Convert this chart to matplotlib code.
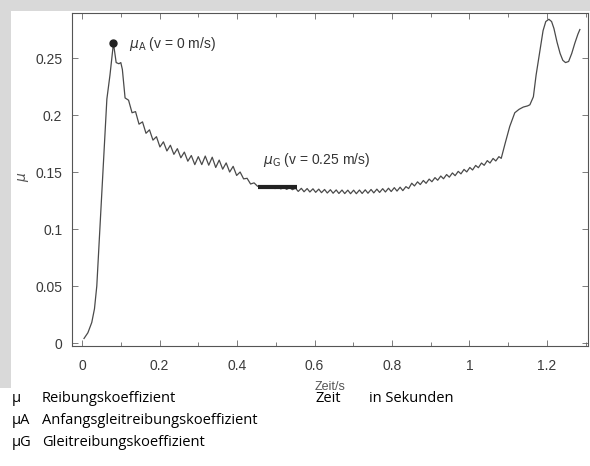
import matplotlib
matplotlib.use("Agg")
import matplotlib.pyplot as plt
from matplotlib.patches import Rectangle

# Zeit (s) und Reibungskoeffizient
zeit = [0.005, 0.015, 0.025, 0.032, 0.038, 0.042, 0.046, 0.055, 0.064, 0.072,
        0.081, 0.088, 0.095, 0.100, 0.104, 0.111,
        0.120, 0.129, 0.138, 0.147, 0.156, 0.165, 0.174, 0.183, 0.192, 0.201,
        0.210, 0.219, 0.228, 0.237, 0.246, 0.255, 0.264, 0.273, 0.282, 0.291,
        0.300, 0.309, 0.318, 0.327, 0.336, 0.345, 0.354, 0.363, 0.372, 0.381,
        0.390, 0.399, 0.408, 0.417, 0.426, 0.435, 0.444, 0.453,
        0.461, 0.468, 0.476, 0.483, 0.491, 0.498, 0.506, 0.513, 0.521, 0.528,
        0.536, 0.543, 0.551,
        0.558, 0.566, 0.573, 0.581, 0.588, 0.596, 0.603, 0.611, 0.618, 0.626,
        0.633, 0.641, 0.648, 0.656, 0.663, 0.671, 0.678, 0.686, 0.693, 0.701,
        0.708, 0.716, 0.723, 0.731, 0.738, 0.746, 0.753, 0.761, 0.768, 0.776,
        0.783, 0.791, 0.798, 0.806, 0.813, 0.821, 0.828, 0.836,
        0.843, 0.851, 0.858, 0.866, 0.873, 0.881, 0.888, 0.896, 0.903, 0.911,
        0.918, 0.926, 0.933, 0.941, 0.948, 0.956, 0.963, 0.971, 0.978, 0.986,
        0.993, 1.001, 1.008, 1.016, 1.023, 1.031, 1.038, 1.046, 1.053, 1.061,
        1.068, 1.076,
        1.082, 1.092, 1.104, 1.117, 1.128, 1.139, 1.150, 1.156, 1.165, 1.172,
        1.182, 1.190, 1.197, 1.205, 1.212, 1.218, 1.226, 1.234, 1.241, 1.248,
        1.256, 1.264, 1.272, 1.280, 1.285]
mu = [0.004, 0.009, 0.018, 0.030, 0.050, 0.075, 0.100, 0.158, 0.214, 0.235,
      0.263, 0.246, 0.245, 0.246, 0.240, 0.215,
      0.213, 0.202, 0.203, 0.192, 0.194, 0.184, 0.187, 0.178, 0.181, 0.172,
      0.1765, 0.1685, 0.1735, 0.1655, 0.1705, 0.1625, 0.1675, 0.1595, 0.1645, 0.1565,
      0.1635, 0.1565, 0.164, 0.156, 0.163, 0.154, 0.1605, 0.1525, 0.158, 0.150,
      0.155, 0.147, 0.150, 0.144, 0.1445, 0.1395, 0.1405, 0.1375,
      0.1378, 0.1362, 0.1375, 0.1358, 0.1372, 0.1355, 0.1368, 0.1352, 0.1365, 0.1348,
      0.1362, 0.1345, 0.1358,
      0.1330, 0.1357, 0.1327, 0.1355, 0.1325, 0.1353, 0.1322, 0.1350, 0.1319, 0.1347,
      0.1316, 0.1345, 0.1314, 0.1343, 0.1312, 0.1342, 0.1311, 0.1341, 0.1310, 0.1341,
      0.1310, 0.1342, 0.1312, 0.1344, 0.1314, 0.1347, 0.1317, 0.1350, 0.1321, 0.1354,
      0.1325, 0.1358, 0.1329, 0.1363, 0.1333, 0.1367, 0.1337, 0.1372,
      0.1355, 0.1402, 0.1378, 0.1414, 0.1390, 0.1426, 0.1401, 0.1438, 0.1415, 0.1451,
      0.1428, 0.1465, 0.1441, 0.1478, 0.1455, 0.1492, 0.1468, 0.1506, 0.1484, 0.1523,
      0.1501, 0.1540, 0.1518, 0.1558, 0.1538, 0.1579, 0.1559, 0.1600, 0.1579, 0.1619,
      0.1597, 0.1635,
      0.162, 0.175, 0.190, 0.202, 0.205, 0.207, 0.208, 0.209, 0.216, 0.235,
      0.257, 0.274, 0.282, 0.284, 0.282, 0.276, 0.264, 0.254, 0.248, 0.246,
      0.247, 0.254, 0.263, 0.271, 0.275]

mu_a = (0.081, 0.263)           # Anfangsgleitreibung
mu_g_zeit = [0.455, 0.555]      # Bereich Gleitreibung
mu_g = [0.1365, 0.1365]

xticks = [0, 0.2, 0.4, 0.6, 0.8, 1, 1.2]
xticklabels = ["0", "0.2", "0.4", "0.6", "0.8", "1", "1.2"]
yticks = [0, 0.05, 0.1, 0.15, 0.2, 0.25]
yticklabels = ["0", "0.05", "0.1", "0.15", "0.2", "0.25"]

legende = [("μ", "Reibungskoeffizient"),
           ("μA", "Anfangsgleitreibungskoeffizient"),
           ("μG", "Gleitreibungskoeffizient")]

W, H = 590, 466
fig = plt.figure(figsize=(W / 100, H / 100), dpi=100)
fig.patch.set_facecolor("white")
grau = "#d9d9d9"
fig.patches.append(Rectangle((0, 1 - 11 / H), 1, 11 / H, transform=fig.transFigure,
                             facecolor=grau, edgecolor="none", zorder=0))
fig.patches.append(Rectangle((0, 1 - 388 / H), 11 / W, 388 / H, transform=fig.transFigure,
                             facecolor=grau, edgecolor="none", zorder=0))

ax = fig.add_axes([72 / W, 1 - 346 / H, (588 - 72) / W, (346 - 13) / H])
ink = "#3a3a3a"
ax.plot(zeit, mu, color="#4a4a4a", lw=0.9)
ax.plot(*mu_a, "o", color="#222222", ms=5)
ax.plot(mu_g_zeit, mu_g, color="#222222", lw=3, solid_capstyle="butt")

ax.set_xlim(-0.026, 1.306)
ax.set_ylim(-0.0026, 0.2895)
ax.set_xticks(xticks, xticklabels)
ax.set_yticks(yticks, yticklabels)
ax.set_xticks([0.1, 0.3, 0.5, 0.7, 0.9, 1.1, 1.3], minor=True)
ax.tick_params(which="both", direction="in", top=True, right=True, color="#666666",
               labelcolor=ink, labelsize=10, width=0.6)
ax.tick_params(which="major", length=4, pad=7)
ax.tick_params(axis="x", which="major", pad=9)
ax.tick_params(which="minor", length=3)
for s in ax.spines.values():
    s.set_color("#555555")
    s.set_linewidth(0.8)
for lab in ax.get_xticklabels() + ax.get_yticklabels():
    lab.set_family("Liberation Sans")

ax.set_xlabel("Zeit/s", family="Liberation Sans", fontsize=9, color="#555555", labelpad=6)
fig.text(22 / W, 1 - 178 / H, "μ", rotation=90, ha="center", va="center",
         fontsize=10, color="#555555", style="italic")

ax.annotate(r"$\mu_{\rm A}$ (v = 0 m/s)", xy=mu_a, xytext=(129 / W, 1 - 44 / H),
            textcoords="figure fraction", fontsize=10, color="#333333",
            family="Liberation Sans", va="center")
fig.text(263 / W, 1 - 160 / H, r"$\mu_{\rm G}$ (v = 0.25 m/s)", fontsize=10,
         color="#333333", family="Liberation Sans", va="center")

zeilen_y = [399, 421, 443]
for (sym, txt), yy in zip(legende, zeilen_y):
    fig.text(12 / W, 1 - yy / H, sym, fontsize=10.5, family="Open Sans", va="center")
    fig.text(42 / W, 1 - yy / H, txt, fontsize=10.5, family="Open Sans", va="center")
fig.text(315 / W, 1 - 399 / H, "Zeit", fontsize=10.5, family="Open Sans", va="center")
fig.text(369 / W, 1 - 399 / H, "in Sekunden", fontsize=10.5, family="Open Sans", va="center")

fig.savefig("out.png", dpi=100)
